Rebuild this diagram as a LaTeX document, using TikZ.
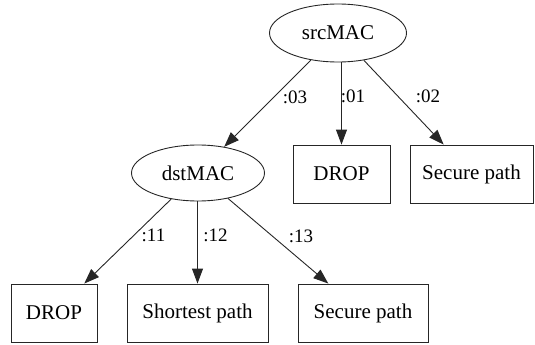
\documentclass[tikz,border=0pt]{standalone}
\usepackage{fontspec}
\setmainfont{Liberation Serif}
\usetikzlibrary{shapes.geometric,arrows.meta}
\begin{document}
\begin{tikzpicture}[x=1pt,y=-1pt,
  ell/.style={draw=black!85,line width=0.9pt,ellipse,inner sep=0pt,font=\fontsize{21}{23}\selectfont},
  box/.style={draw=black!85,line width=0.9pt,rectangle,inner sep=0pt,font=\fontsize{21}{23}\selectfont},
  lbl/.style={inner sep=0pt,font=\fontsize{19}{21}\selectfont},
  arr/.style={draw=black!85,line width=0.9pt,-{Triangle[length=15pt,width=11pt]}}]
\useasboundingbox (0,0) rectangle (535,345);
\node[ell,minimum width=137,minimum height=58] (src) at (338,33) {srcMAC};
\node[ell,minimum width=133,minimum height=56] (dst) at (198,173) {dstMAC};
\node[box,minimum width=97,minimum height=58] (drop1) at (341.5,174) {DROP};
\node[box,minimum width=123,minimum height=58] (sec1) at (471.5,174) {Secure path};
\node[box,minimum width=86,minimum height=58] (drop2) at (54,313) {DROP};
\node[box,minimum width=141,minimum height=58] (short) at (197.5,313) {Shortest path};
\node[box,minimum width=130,minimum height=58] (sec2) at (363,313) {Secure path};
\draw[arr] (src) -- (dst);
\draw[arr] (src.south -| drop1.north) -- (drop1.north);
\draw[arr] (src) -- (sec1);
\draw[arr] (dst) -- (drop2);
\draw[arr] (dst.south -| short.north) -- (short.north);
\draw[arr] (dst) -- (sec2);
\node[lbl] (l03) at (295,97) {:03};
\node[lbl] (l01) at (353,96) {:01};
\node[lbl] (l02) at (428,96) {:02};
\node[lbl] (l11) at (153.5,235) {:11};
\node[lbl] (l12) at (215.5,235) {:12};
\node[lbl] (l13) at (301,236) {:13};
\end{tikzpicture}
\end{document}
